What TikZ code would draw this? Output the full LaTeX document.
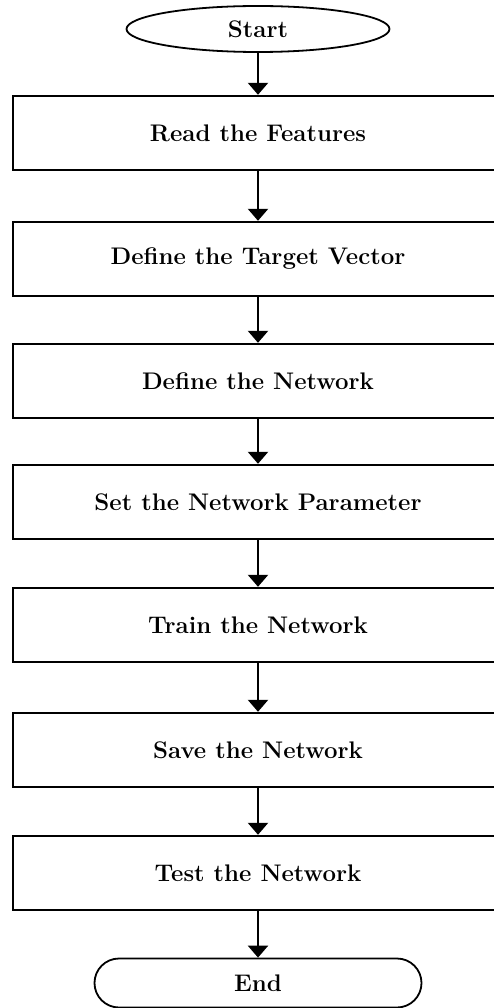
\documentclass[tikz,border=0pt]{standalone}
\usetikzlibrary{arrows.meta,shapes.misc,shapes.geometric}
\begin{document}
\begin{tikzpicture}[x=1pt,y=-1pt,
  box/.style={draw=black,line width=2.4pt,minimum width=490pt,minimum height=74pt,inner sep=0pt,
    font=\fontsize{24}{28}\selectfont\bfseries},
  term/.style={draw=black,line width=1.8pt,inner sep=0pt,
    font=\fontsize{24}{28}\selectfont\bfseries},
  flow/.style={line width=2.4pt,-{Triangle[width=20pt,length=12pt]}}]
\useasboundingbox (0,0) rectangle (494,1008);
\fill[white] (0,0) rectangle (494,1008);
\clip (0,0) rectangle (494,1008);
\node[term,ellipse,minimum width=263pt,minimum height=46pt] (start) at (258,29) {Start};
\node[box] (b1) at (258,133) {Read the Features};
\node[box] (b2) at (258,259) {Define the Target Vector};
\node[box] (b3) at (258,381) {Define the Network};
\node[box] (b4) at (258,502) {Set the Network Parameter};
\node[box] (b5) at (258,625) {Train the Network};
\node[box] (b6) at (258,750) {Save the Network};
\node[box] (b7) at (258,873) {Test the Network};
\node[term,rounded rectangle,minimum width=327pt,minimum height=49pt] (end) at (258,983) {End};
\draw[flow] (start) -- (b1);
\draw[flow] (b1) -- (b2);
\draw[flow] (b2) -- (b3);
\draw[flow] (b3) -- (b4);
\draw[flow] (b4) -- (b5);
\draw[flow] (b5) -- (b6);
\draw[flow] (b6) -- (b7);
\draw[flow] (b7) -- (end);
\end{tikzpicture}
\end{document}
